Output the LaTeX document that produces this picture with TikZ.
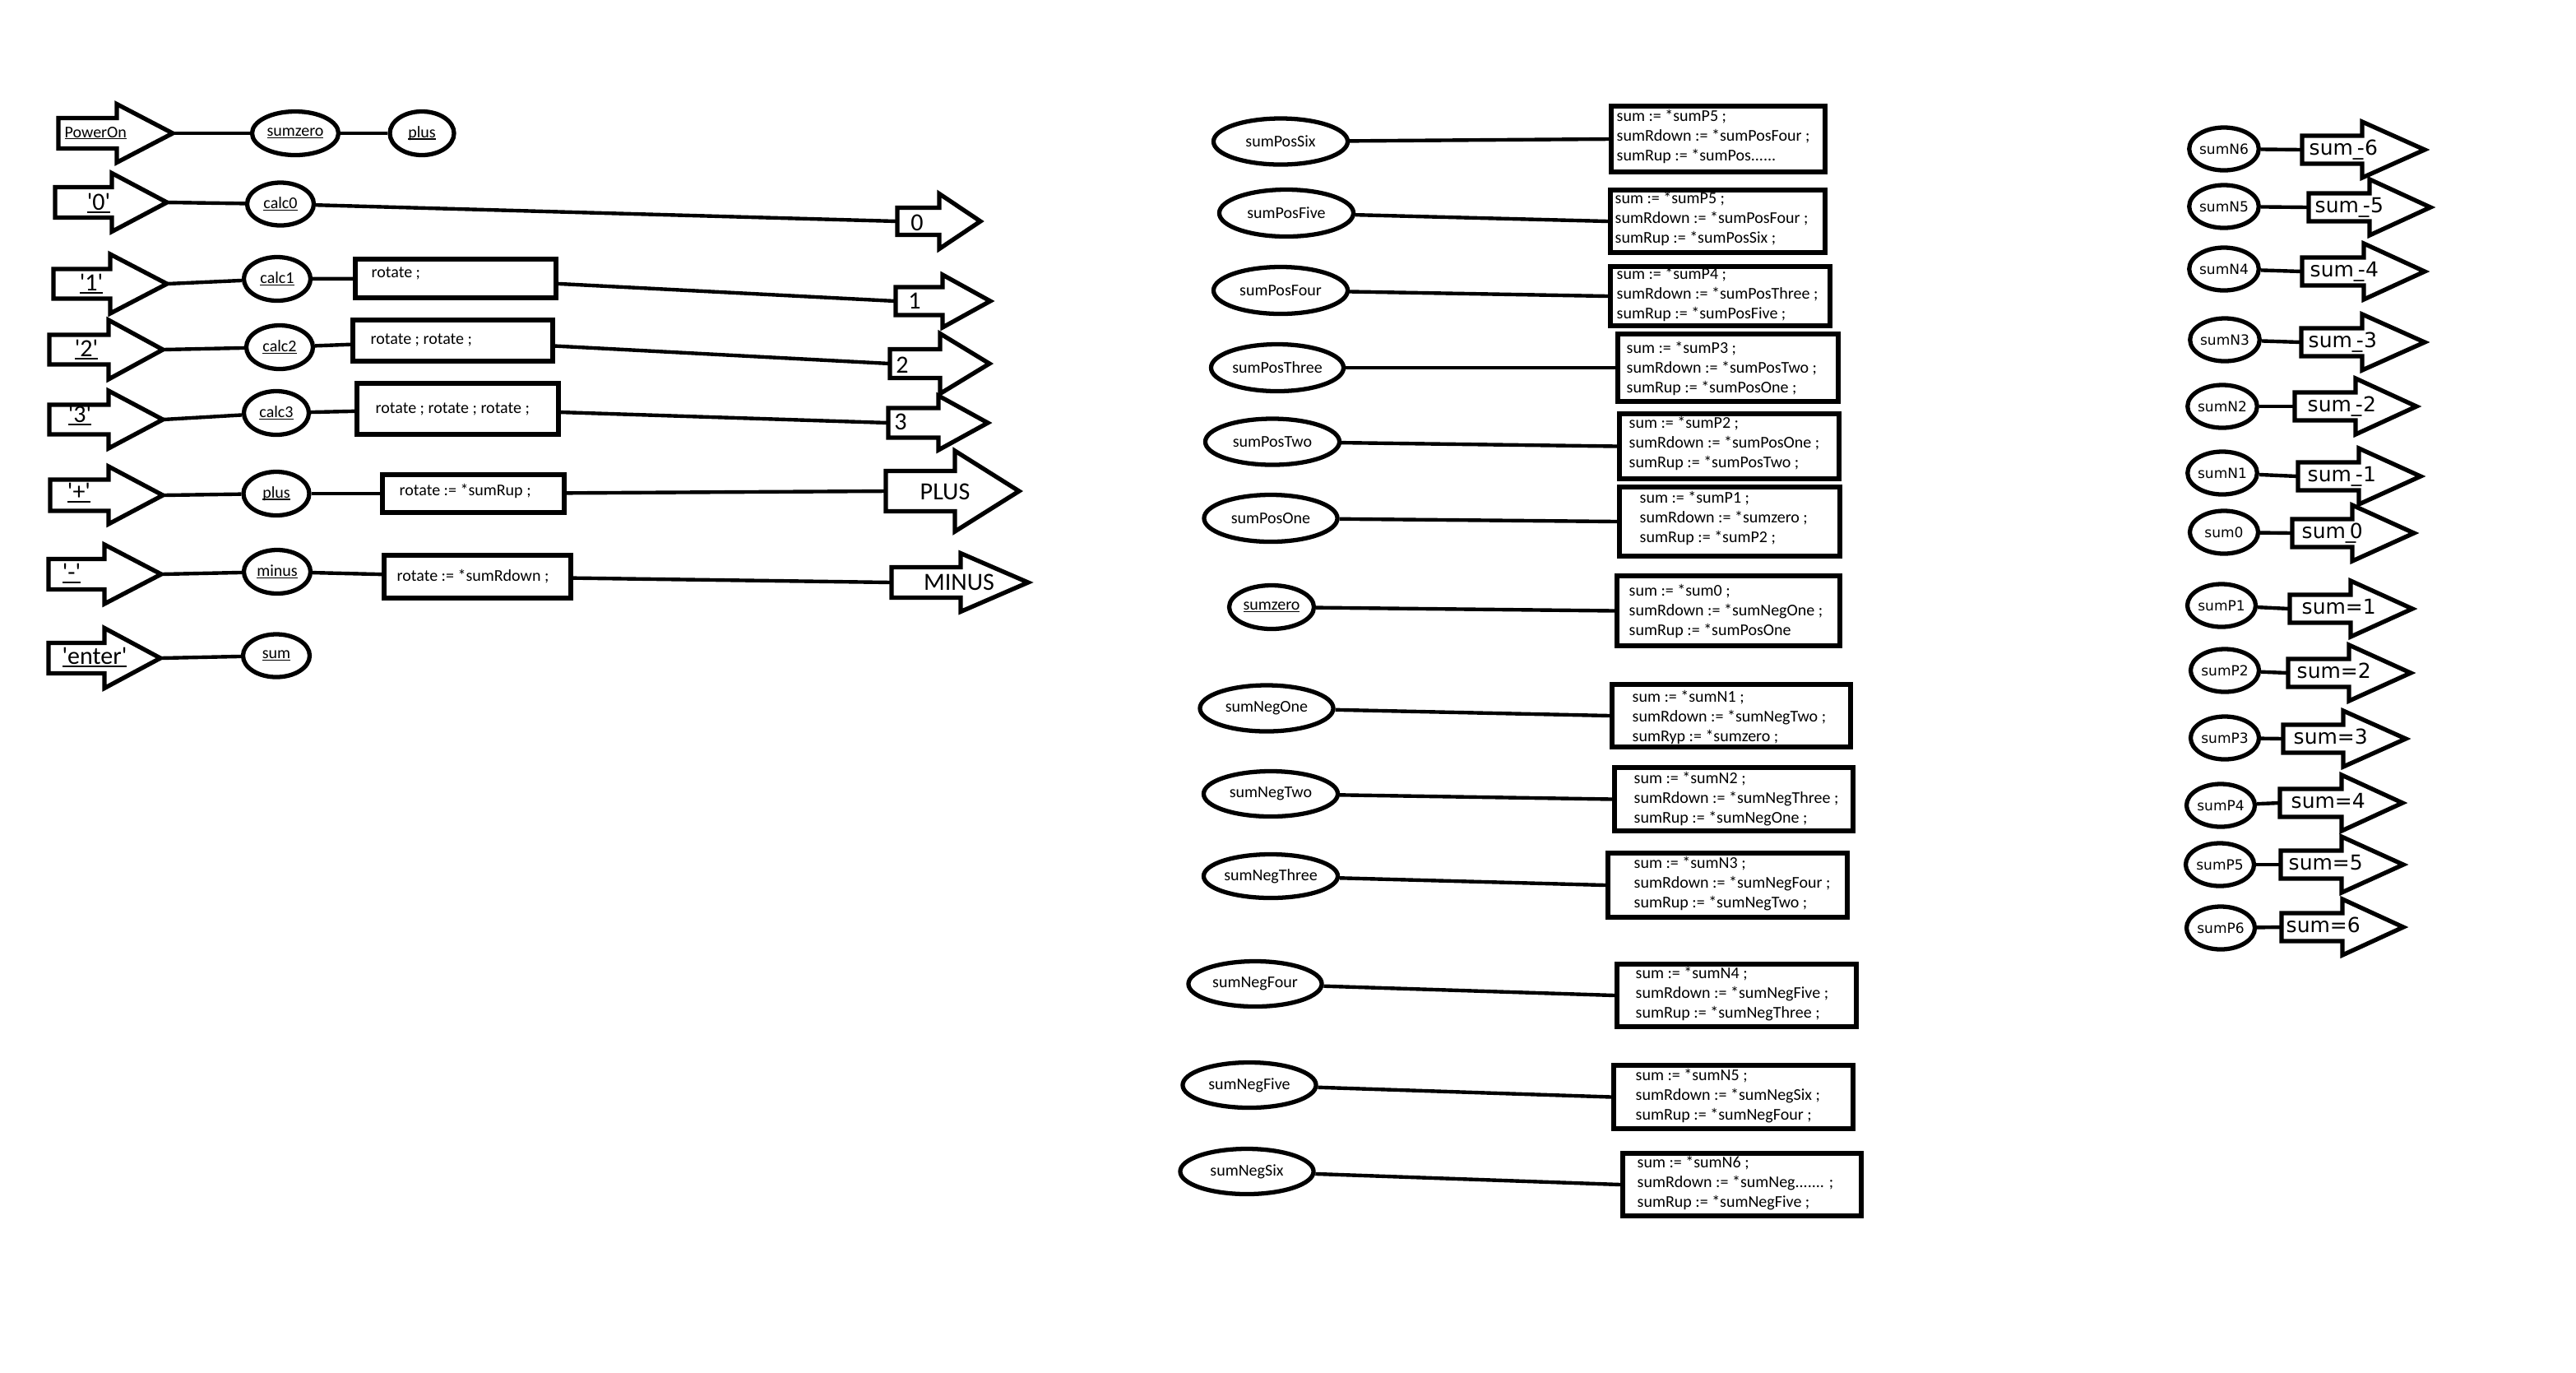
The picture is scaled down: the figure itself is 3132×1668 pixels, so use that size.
\documentclass[tikz,border=0pt]{standalone}
\usepackage{fontspec}
\setmainfont{Carlito}[Ligatures=TeXOff]
\newfontfamily\dvs{DejaVu Sans}
\usetikzlibrary{shapes.geometric}

% underline that sits at a fixed depth, crossing descenders
\newcommand{\undl}[1]{\setbox0\hbox{#1}\rlap{\rule[-0.12em]{\wd0}{0.07em}}\box0}

% block arrow: name, left x, head base x, tip x, centre y, half shaft, half head
\newcommand{\blockarrow}[7]{%
  \draw[blk] (#2,#5-#6) -- (#3,#5-#6) -- (#3,#5-#7) -- (#4,#5)
    -- (#3,#5+#7) -- (#3,#5+#6) -- (#2,#5+#6) -- cycle;
  \coordinate (#1-l) at (#2,#5);
  \coordinate (#1-t) at (#4,#5);
}

\tikzset{
  blk/.style={draw, line width=1.5pt, line join=miter},
  wire/.style={line width=1.25pt},
  oval/.style={ellipse, draw, line width=1.5pt, inner sep=0pt},
  codebox/.style={rectangle, draw, line width=1.6pt, inner sep=0pt},
  smalltxt/.style={font=\fontsize{5.69pt}{6.83pt}\selectfont, inner sep=0pt},
  bigtxt/.style={font=\fontsize{8.54pt}{10pt}\selectfont, inner sep=0pt},
  rtxt/.style={font=\dvs\fontsize{4.84pt}{5.8pt}\selectfont, inner sep=0pt},
  rbig/.style={font=\dvs\fontsize{7.11pt}{8.5pt}\selectfont, inner sep=0pt},
  codetxt/.style={smalltxt, align=left},
}

\begin{document}
\begin{tikzpicture}[x=0.01cm, y=-0.01cm]
\useasboundingbox (0,0) rectangle (3132,1668);

%% ---------- key inputs ----------
\blockarrow{kPow}{71}{142}{210}{162}{18.5}{35.5}
\node[smalltxt, anchor=base west] (kPowT) at (78,167) {\undl{PowerOn}};
\node[oval, smalltxt, minimum width=1.05cm, minimum height=0.53cm] (szA) at (359,162) {\undl{sumzero}};
\node[oval, smalltxt, minimum width=0.78cm, minimum height=0.53cm] (plA) at (513,162) {\undl{plus}};
\draw[wire] (kPow-t) -- (szA);
\draw[wire] (szA) -- (plA);

% '0'
\blockarrow{k0}{67}{136}{203}{246}{18.5}{35.5}
\node[bigtxt, anchor=base] (k0T) at (120,255) {\undl{'0'}};
\node[oval, smalltxt, minimum width=0.81cm, minimum height=0.52cm] (c0) at (341,248) {\undl{calc0}};
\blockarrow{o0}{1091}{1142}{1192}{269}{16.5}{33.5}
\node[bigtxt, anchor=base] (o0T) at (1115,280) {0};
\draw[wire] (k0-t) -- (c0);
\draw[wire] (c0) -- (o0-l);

% '1'
\blockarrow{k1}{65}{134}{203}{345}{18}{36}
\node[bigtxt, anchor=base] (k1T) at (111,353) {\undl{'1'}};
\node[oval, smalltxt, minimum width=0.81cm, minimum height=0.53cm] (c1) at (337,339) {\undl{calc1}};
\node[codebox, minimum width=2.44cm, minimum height=0.47cm] (rb1) at (554,338.5) {};
\node[smalltxt, anchor=west] (rb1T) at (451,332) {rotate ;};
\blockarrow{o1}{1089}{1146}{1204}{366}{17}{32}
\node[bigtxt, anchor=base] (o1T) at (1112,375) {1};
\draw[wire] (k1-t) -- (c1);
\draw[wire] (c1) -- (rb1);
\draw[wire] (rb1) -- (o1-l);

% '2'
\blockarrow{k2}{60}{132}{198}{425}{18}{36}
\node[bigtxt, anchor=base] (k2T) at (105,433) {\undl{'2'}};
\node[oval, smalltxt, minimum width=0.81cm, minimum height=0.53cm] (c2) at (340,422) {\undl{calc2}};
\node[codebox, minimum width=2.43cm, minimum height=0.50cm] (rb2) at (550.5,414) {};
\node[smalltxt, anchor=west] (rb2T) at (450,413) {rotate ; rotate ;};
\blockarrow{o2}{1082}{1143}{1203}{442}{17.5}{36.5}
\node[bigtxt, anchor=base] (o2T) at (1097,453) {2};
\draw[wire] (k2-t) -- (c2);
\draw[wire] (c2) -- (rb2);
\draw[wire] (rb2) -- (o2-l);

% '3'
\blockarrow{k3}{60}{132}{198}{510}{18}{35}
\node[bigtxt, anchor=base] (k3T) at (97,513) {\undl{'3'}};
\node[oval, smalltxt, minimum width=0.79cm, minimum height=0.53cm] (c3) at (336,502) {\undl{calc3}};
\node[codebox, minimum width=2.45cm, minimum height=0.62cm] (rb3) at (556.5,497) {};
\node[smalltxt, anchor=west] (rb3T) at (456,497) {rotate ; rotate ; rotate ;};
\blockarrow{o3}{1080}{1141}{1201}{514}{18}{33}
\node[bigtxt, anchor=base] (o3T) at (1095,522) {3};
\draw[wire] (k3-t) -- (c3);
\draw[wire] (c3) -- (rb3);
\draw[wire] (rb3) -- (o3-l);

% '+'
\blockarrow{kP}{61}{132}{198}{602}{19}{35}
\node[bigtxt, anchor=base] (kPT) at (96,607) {\undl{'+'}};
\node[oval, smalltxt, minimum width=0.80cm, minimum height=0.53cm] (cP) at (336,600) {\undl{plus}};
\node[codebox, minimum width=2.21cm, minimum height=0.46cm] (rbP) at (575.5,600) {};
\node[smalltxt, anchor=west] (rbPT) at (485,597) {rotate := *sumRup ;};
\blockarrow{oP}{1077}{1161}{1239}{597}{24.5}{49}
\node[bigtxt, anchor=base] (oPT) at (1149,607) {PLUS};
\draw[wire] (kP-t) -- (cP);
\draw[wire] (cP) -- (rbP);
\draw[wire] (rbP) -- (oP-l);

% '-'
\blockarrow{kM}{59}{127}{196}{698}{18.5}{36}
\node[bigtxt, anchor=base] (kMT) at (87,705) {\undl{'-'}};
\node[oval, smalltxt, minimum width=0.81cm, minimum height=0.53cm] (cM) at (337,695) {\undl{minus}};
\node[codebox, minimum width=2.27cm, minimum height=0.52cm] (rbM) at (580.5,701) {};
\node[smalltxt, anchor=west] (rbMT) at (482,701) {rotate := *sumRdown ;};
\blockarrow{oM}{1084}{1168}{1250}{708}{18.5}{35.5}
\node[bigtxt, anchor=base] (oMT) at (1166,717) {MINUS};
\draw[wire] (kM-t) -- (cM);
\draw[wire] (cM) -- (rbM);
\draw[wire] (rbM) -- (oM-l);

% 'enter'
\blockarrow{kE}{59}{127}{195}{800}{18.5}{36.5}
\node[bigtxt, anchor=base] (kET) at (115,807) {\undl{'enter'}};
\node[oval, smalltxt, minimum width=0.81cm, minimum height=0.52cm] (cE) at (336,797) {\undl{sum}};
\draw[wire] (kE-t) -- (cE);

%% ---------- sum states ----------
\node[oval, smalltxt, minimum width=1.63cm, minimum height=0.56cm] (mP6) at (1557,172) {sumPosSix};
\node[codebox, minimum width=2.60cm, minimum height=0.80cm] (bP6) at (2089,169) {};
\node[codetxt, anchor=west] (tP6) at (1965,166) {sum := *sumP5 ;\\sumRdown := *sumPosFour ;\\sumRup := *sumPos......};
\draw[wire] (mP6) -- (bP6.west);

\node[oval, smalltxt, minimum width=1.63cm, minimum height=0.57cm] (mP5) at (1564,259) {sumPosFive};
\node[codebox, minimum width=2.61cm, minimum height=0.76cm] (bP5) at (2088.5,269) {};
\node[codetxt, anchor=west] (tP5) at (1963,266) {sum := *sumP5 ;\\sumRdown := *sumPosFour ;\\sumRup := *sumPosSix ;};
\draw[wire] (mP5) -- (bP5.west);

\node[oval, smalltxt, minimum width=1.63cm, minimum height=0.57cm] (mP4) at (1557,353) {sumPosFour};
\node[codebox, minimum width=2.67cm, minimum height=0.72cm] (bP4) at (2091.5,360) {};
\node[codetxt, anchor=west] (tP4) at (1965,358) {sum := *sumP4 ;\\sumRdown := *sumPosThree ;\\sumRup := *sumPosFive ;};
\draw[wire] (mP4) -- (bP4.west);

\node[oval, smalltxt, minimum width=1.61cm, minimum height=0.57cm] (mP3) at (1553,447) {sumPosThree};
\node[codebox, minimum width=2.68cm, minimum height=0.82cm] (bP3) at (2101,447) {};
\node[codetxt, anchor=west] (tP3) at (1977,448) {sum := *sumP3 ;\\sumRdown := *sumPosTwo ;\\sumRup := *sumPosOne ;};
\draw[wire] (mP3) -- (bP3.west);

\node[oval, smalltxt, minimum width=1.63cm, minimum height=0.56cm] (mP2) at (1547,537) {sumPosTwo};
\node[codebox, minimum width=2.67cm, minimum height=0.79cm] (bP2) at (2102.5,542.5) {};
\node[codetxt, anchor=west] (tP2) at (1980,539) {sum := *sumP2 ;\\sumRdown := *sumPosOne ;\\sumRup := *sumPosTwo ;};
\draw[wire] (mP2) -- (bP2.west);

\node[oval, smalltxt, minimum width=1.62cm, minimum height=0.57cm] (mP1) at (1545,630) {sumPosOne};
\node[codebox, minimum width=2.68cm, minimum height=0.84cm] (bP1) at (2103,634) {};
\node[codetxt, anchor=west] (tP1) at (1993,630) {sum := *sumP1 ;\\sumRdown := *sumzero ;\\sumRup := *sumP2 ;};
\draw[wire] (mP1) -- (bP1.west);

\node[oval, smalltxt, minimum width=1.03cm, minimum height=0.53cm] (mZ) at (1546,738) {\undl{sumzero}};
\node[codebox, minimum width=2.71cm, minimum height=0.85cm] (bZ) at (2101.5,742.5) {};
\node[codetxt, anchor=west] (tZ) at (1980,743) {sum := *sum0 ;\\sumRdown := *sumNegOne ;\\sumRup := *sumPosOne};
\draw[wire] (mZ) -- (bZ.west);

\node[oval, smalltxt, minimum width=1.62cm, minimum height=0.56cm] (mN1) at (1540,861) {sumNegOne};
\node[codebox, minimum width=2.90cm, minimum height=0.76cm] (bN1) at (2105,870) {};
\node[codetxt, anchor=west] (tN1) at (1984,872) {sum := *sumN1 ;\\sumRdown := *sumNegTwo ;\\sumRyp := *sumzero ;};
\draw[wire] (mN1) -- (bN1.west);

\node[oval, smalltxt, minimum width=1.63cm, minimum height=0.55cm] (mN2) at (1545,965) {sumNegTwo};
\node[codebox, minimum width=2.90cm, minimum height=0.77cm] (bN2) at (2108,971.5) {};
\node[codetxt, anchor=west] (tN2) at (1986,971) {sum := *sumN2 ;\\sumRdown := *sumNegThree ;\\sumRup := *sumNegOne ;};
\draw[wire] (mN2) -- (bN2.west);

\node[oval, smalltxt, minimum width=1.63cm, minimum height=0.53cm] (mN3) at (1545,1065) {sumNegThree};
\node[codebox, minimum width=2.91cm, minimum height=0.78cm] (bN3) at (2100.5,1076) {};
\node[codetxt, anchor=west] (tN3) at (1986,1074) {sum := *sumN3 ;\\sumRdown := *sumNegFour ;\\sumRup := *sumNegTwo ;};
\draw[wire] (mN3) -- (bN3.west);

\node[oval, smalltxt, minimum width=1.62cm, minimum height=0.55cm] (mN4) at (1526,1196) {sumNegFour};
\node[codebox, minimum width=2.91cm, minimum height=0.76cm] (bN4) at (2111.5,1210) {};
\node[codetxt, anchor=west] (tN4) at (1988,1208) {sum := *sumN4 ;\\sumRdown := *sumNegFive ;\\sumRup := *sumNegThree ;};
\draw[wire] (mN4) -- (bN4.west);

\node[oval, smalltxt, minimum width=1.62cm, minimum height=0.55cm] (mN5) at (1519,1319) {sumNegFive};
\node[codebox, minimum width=2.91cm, minimum height=0.77cm] (bN5) at (2107.5,1333.5) {};
\node[codetxt, anchor=west] (tN5) at (1988,1332) {sum := *sumN5 ;\\sumRdown := *sumNegSix ;\\sumRup := *sumNegFour ;};
\draw[wire] (mN5) -- (bN5.west);

\node[oval, smalltxt, minimum width=1.62cm, minimum height=0.55cm] (mN6) at (1516,1424) {sumNegSix};
\node[codebox, minimum width=2.90cm, minimum height=0.76cm] (bN6) at (2118,1440) {};
\node[codetxt, anchor=west] (tN6) at (1990,1438) {sum := *sumN6 ;\\sumRdown := *sumNeg....... ;\\sumRup := *sumNegFive ;};
\draw[wire] (mN6) -- (bN6.west);

%% ---------- sum outputs ----------
\tikzset{sov/.style={oval, rtxt, minimum width=0.83cm, minimum height=0.52cm}}

\node[sov] (sN6) at (2704,181) {sumN6};
\blockarrow{aN6}{2799}{2872}{2948}{182}{17}{34}
\node[rbig, anchor=base west] (aN6T) at (2807,188) {sum\_\kern-0.3em-6};
\draw[wire] (sN6) -- (aN6-l);

\node[sov] (sN5) at (2704,251) {sumN5};
\blockarrow{aN5}{2807}{2881}{2955}{252}{17}{34}
\node[rbig, anchor=base west] (aN5T) at (2814,258) {sum\_\kern-0.3em-5};
\draw[wire] (sN5) -- (aN5-l);

\node[sov] (sN4) at (2704,327) {sumN4};
\blockarrow{aN4}{2799}{2874}{2948}{330}{17}{34}
\node[rbig, anchor=base west] (aN4T) at (2808,336) {sum\_\kern-0.3em-4};
\draw[wire] (sN4) -- (aN4-l);

\node[sov] (sN3) at (2705,413) {sumN3};
\blockarrow{aN3}{2798}{2872}{2948}{416}{17}{34}
\node[rbig, anchor=base west] (aN3T) at (2806,422) {sum\_\kern-0.3em-3};
\draw[wire] (sN3) -- (aN3-l);

\node[sov] (sN2) at (2702,494) {sumN2};
\blockarrow{aN2}{2790}{2864}{2938}{494}{17}{34}
\node[rbig, anchor=base west] (aN2T) at (2805,500) {sum\_\kern-0.3em-2};
\draw[wire] (sN2) -- (aN2-l);

\node[sov] (sN1) at (2702,575) {sumN1};
\blockarrow{aN1}{2794}{2868}{2943}{579}{17}{34}
\node[rbig, anchor=base west] (aN1T) at (2805,585) {sum\_\kern-0.3em-1};
\draw[wire] (sN1) -- (aN1-l);

\node[sov] (s0) at (2704,647) {sum0};
\blockarrow{a0}{2787}{2860}{2935}{648}{17}{34}
\node[rbig, anchor=base west] (a0T) at (2798,654) {sum\_\kern-0.3em 0};
\draw[wire] (s0) -- (a0-l);

\node[sov] (sP1) at (2701,736) {sumP1};
\blockarrow{aP1}{2784}{2858}{2933}{740}{17}{34}
\node[rbig, anchor=base west] (aP1T) at (2798,746) {sum=1};
\draw[wire] (sP1) -- (aP1-l);

\node[sov] (sP2) at (2705,815) {sumP2};
\blockarrow{aP2}{2782}{2856}{2931}{818}{17}{34}
\node[rbig, anchor=base west] (aP2T) at (2792,824) {sum=2};
\draw[wire] (sP2) -- (aP2-l);

\node[sov] (sP3) at (2705,897) {sumP3};
\blockarrow{aP3}{2776}{2849}{2925}{898}{17}{34}
\node[rbig, anchor=base west] (aP3T) at (2788,904) {sum=3};
\draw[wire] (sP3) -- (aP3-l);

\node[sov] (sP4) at (2700,979) {sumP4};
\blockarrow{aP4}{2772}{2847}{2921}{976}{17}{34}
\node[rbig, anchor=base west] (aP4T) at (2785,982) {sum=4};
\draw[wire] (sP4) -- (aP4-l);

\node[sov] (sP5) at (2699,1051) {sumP5};
\blockarrow{aP5}{2773}{2847}{2922}{1051}{17}{34}
\node[rbig, anchor=base west] (aP5T) at (2782,1057) {sum=5};
\draw[wire] (sP5) -- (aP5-l);

\node[sov] (sP6) at (2700,1128) {sumP6};
\blockarrow{aP6}{2774}{2848}{2922}{1127}{17}{34}
\node[rbig, anchor=base west] (aP6T) at (2779,1133) {sum=6};
\draw[wire] (sP6) -- (aP6-l);

\end{tikzpicture}
\end{document}
